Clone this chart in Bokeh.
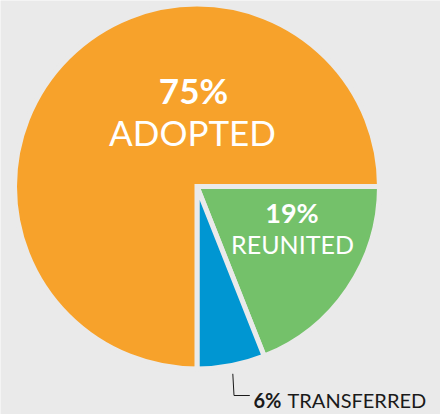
from bokeh.plotting import figure
from bokeh.models import Range1d, Label
from bokeh.embed import file_html
from bokeh.resources import INLINE
import math

# data
categories = ["REUNITED", "TRANSFERRED", "ADOPTED"]
shares = [19, 6, 75]
colors = ["#74c16a", "#0096d2", "#f7a22b"]

BG = "#eaeaea"
W, H = 440, 414
p = figure(width=W, height=H, output_backend="svg", toolbar_location=None,
           x_range=Range1d(0, W), y_range=Range1d(0, H),
           min_border=0, background_fill_color=BG, border_fill_color=BG,
           outline_line_color=None)
p.axis.visible = False
p.grid.visible = False

def Y(py):
    return H - py

cx, cy = 196.5, Y(186)
total = sum(shares)
cum = 0
starts, ends = [], []
for s in shares:
    starts.append(-2 * math.pi * cum / total)
    cum += s
    ends.append(-2 * math.pi * cum / total)

p.wedge(x=cx, y=cy, radius=182.5, start_angle=starts, end_angle=ends,
        direction="clock", fill_color=colors, line_color=BG, line_width=5,
        line_join="miter")

font = "Lato"
p.add_layout(Label(x=193, y=Y(89), text="75%", text_font=font, text_font_size="35px",
                   text_font_style="bold", text_color="white", text_align="center",
                   text_baseline="alphabetic"))
p.add_layout(Label(x=192, y=Y(131), text="ADOPTED", text_font=font, text_font_size="35px",
                   text_color="white", text_align="center", text_baseline="alphabetic"))
p.add_layout(Label(x=291.5, y=Y(212), text="19%", text_font=font, text_font_size="27px",
                   text_font_style="bold", text_color="white", text_align="center",
                   text_baseline="alphabetic"))
p.add_layout(Label(x=292, y=Y(243.5), text="REUNITED", text_font=font, text_font_size="25px",
                   text_color="white", text_align="center", text_baseline="alphabetic"))
p.add_layout(Label(x=253, y=Y(399.5), text="6%", text_font=font, text_font_size="20px",
                   text_font_style="bold", text_color="#1a1a1a", text_align="left",
                   text_baseline="alphabetic"))
p.add_layout(Label(x=287, y=Y(399.5), text="TRANSFERRED", text_font=font, text_font_size="20px",
                   text_color="#1a1a1a", text_align="left", text_baseline="alphabetic"))

p.line(x=[232.3, 233.5, 249.3], y=[Y(373.3), Y(395), Y(395)], line_color="#1a1a1a",
       line_width=1)

open("out.html", "w").write(file_html(p, INLINE))
